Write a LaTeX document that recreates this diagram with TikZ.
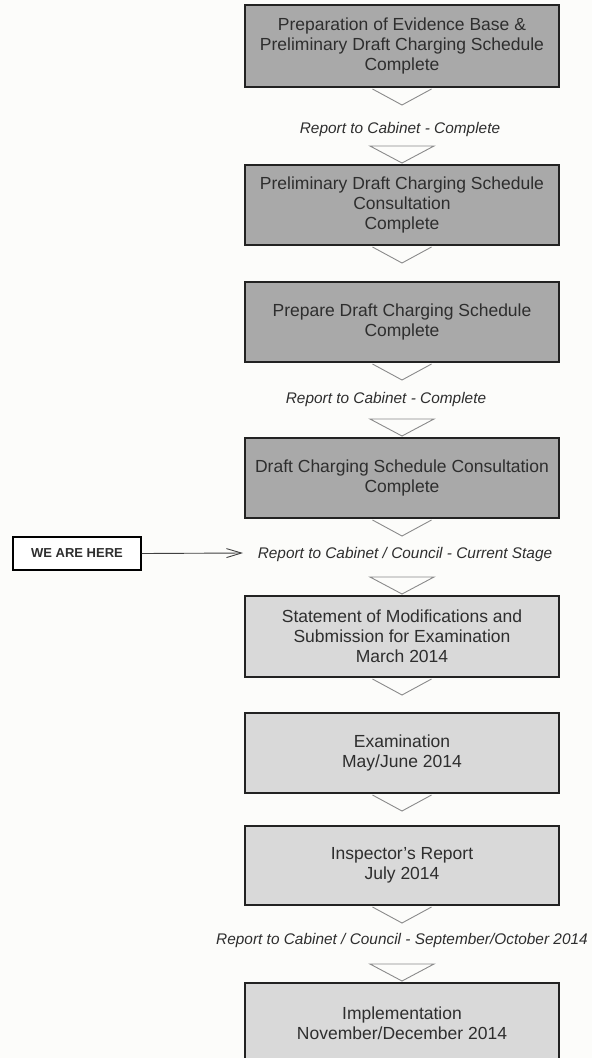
\documentclass[tikz,border=0pt]{standalone}
\usepackage{fontspec}
\setmainfont{Liberation Sans}
\usetikzlibrary{arrows.meta,calc}
\definecolor{darkfill}{HTML}{A9A9A9}
\definecolor{lightfill}{HTML}{D9D9D9}
\definecolor{boxline}{HTML}{222222}
\definecolor{triline}{HTML}{8A8A8A}
\definecolor{txt}{HTML}{2E2E2E}
\definecolor{bg}{HTML}{FCFCFA}
\tikzset{
  stagebox/.style={draw=boxline, line width=2pt, minimum width=314pt, minimum height=80pt,
    align=center, text=txt, font=\fontsize{17.5}{20}\selectfont, inner sep=0pt},
  donebox/.style={stagebox, fill=darkfill},
  todobox/.style={stagebox, fill=lightfill},
  reportlabel/.style={text=txt, font=\fontsize{15.4}{18}\selectfont\itshape, inner sep=0pt},
  herebox/.style={draw=black, line width=1.3pt, fill=white, minimum width=128pt, minimum height=33pt,
    font=\fontsize{13}{15}\selectfont\bfseries, text=txt, inner sep=0pt},
  tri/.style={draw=triline, line width=0.9pt, line join=miter},
  pointer/.style={draw=black!75, line width=0.9pt, -{Straight Barb[length=15pt,width=9pt,line width=0.9pt]}}
}
\begin{document}
\begin{tikzpicture}[x=1pt,y=-1pt]
\clip (0,0) rectangle (592,1058);
\fill[bg] (0,0) rectangle (592,1058);

% stage boxes
\node[donebox, minimum height=82pt] (b1) at (402,46) {Preparation of Evidence Base \&\\Preliminary Draft Charging Schedule\\Complete};
\node[donebox] (b2) at (402,205) {Preliminary Draft Charging Schedule\\Consultation\\Complete};
\node[donebox] (b3) at (402,322) {Prepare Draft Charging Schedule\\Complete};
\node[donebox] (b4) at (402,478) {Draft Charging Schedule Consultation\\Complete};
\node[todobox, minimum height=81pt] (b5) at (402,636.5) {Statement of Modifications and\\Submission for Examination\\March 2014};
\node[todobox] (b6) at (402,753) {Examination\\May/June 2014};
\node[todobox, minimum height=79pt] (b7) at (402,865.5) {Inspector’s Report\\July 2014};
\node[todobox] (b8) at (402,1023) {Implementation\\November/December 2014};

% report labels
\node[reportlabel] (l1) at (400,130) {Report to Cabinet - Complete};
\node[reportlabel] (l2) at (386,400) {Report to Cabinet - Complete};
\node[reportlabel] (l3) at (405,555) {Report to Cabinet / Council - Current Stage};
\node[reportlabel] (l4) at (402,941) {Report to Cabinet / Council - September/October 2014};

% triangles below boxes
\foreach \b in {b1,b2,b3,b4,b5,b6,b7}{
  \draw[tri] ($(\b.south)+(-29.5,1)$) -- ($(\b.south)+(0,17)$) -- ($(\b.south)+(29.5,1)$);
}
% triangles above boxes
\foreach \b in {b2,b4,b5,b8}{
  \draw[tri] ($(\b.north)+(-32,-18)$) -- ($(\b.north)+(32,-18)$) -- ($(\b.north)+(0,-1)$) -- cycle;
}

% we are here marker
\node[herebox] (here) at (77,553.5) {WE ARE HERE};
\coordinate (tip) at (243,553);
\draw[pointer] (here.east) -- (tip);
\end{tikzpicture}
\end{document}
